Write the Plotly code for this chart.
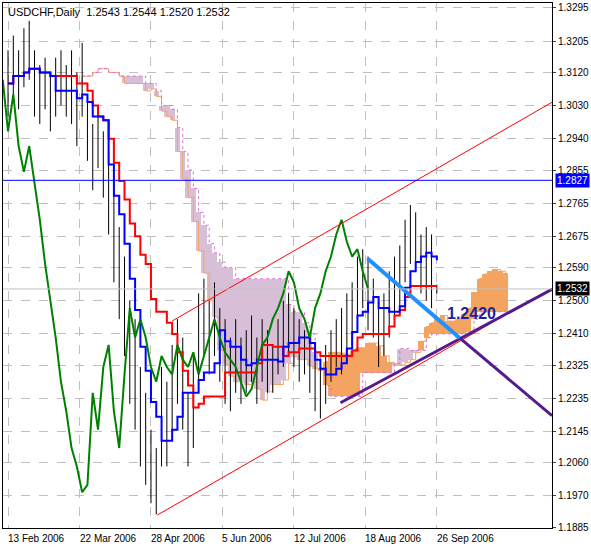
import numpy as np
import plotly.graph_objects as go

# two-day bars (USDCHF daily, Feb - Oct 2006)
highs = [1.318, 1.322, 1.318, 1.324, 1.326, 1.318, 1.314, 1.316, 1.312, 1.316,
         1.318, 1.314, 1.318, 1.312, 1.320, 1.306, 1.298, 1.302, 1.296, 1.290,
         1.280, 1.270, 1.262, 1.250, 1.245, 1.232, 1.225, 1.215, 1.210, 1.232,
         1.228, 1.238, 1.245, 1.240, 1.225, 1.235, 1.252, 1.256, 1.250, 1.255,
         1.248, 1.245, 1.240, 1.245, 1.240, 1.242, 1.246, 1.240, 1.245, 1.242,
         1.238, 1.245, 1.250, 1.252, 1.248, 1.245, 1.242, 1.240, 1.235, 1.232,
         1.238, 1.242, 1.245, 1.248, 1.252, 1.255, 1.262, 1.264, 1.262, 1.256,
         1.250, 1.252, 1.258, 1.262, 1.265, 1.272, 1.276, 1.274, 1.268, 1.270,
         1.268, 1.2544]
lows = [1.300, 1.305, 1.302, 1.308, 1.310, 1.300, 1.298, 1.302, 1.296, 1.300,
        1.303, 1.300, 1.298, 1.292, 1.300, 1.288, 1.280, 1.286, 1.278, 1.268,
        1.255, 1.245, 1.235, 1.222, 1.215, 1.205, 1.200, 1.195, 1.192, 1.205,
        1.205, 1.215, 1.222, 1.215, 1.205, 1.210, 1.228, 1.235, 1.230, 1.235,
        1.228, 1.222, 1.220, 1.225, 1.222, 1.225, 1.228, 1.222, 1.228, 1.225,
        1.225, 1.230, 1.232, 1.235, 1.232, 1.228, 1.230, 1.225, 1.220, 1.218,
        1.222, 1.228, 1.232, 1.230, 1.235, 1.238, 1.245, 1.248, 1.242, 1.240,
        1.232, 1.235, 1.240, 1.245, 1.248, 1.255, 1.260, 1.258, 1.252, 1.250,
        1.248, 1.2520]
closes = [1.310, 1.315, 1.308, 1.318, 1.315, 1.305, 1.306, 1.309, 1.302, 1.310,
          1.308, 1.305, 1.310, 1.296, 1.306, 1.292, 1.285, 1.292, 1.282, 1.272,
          1.260, 1.250, 1.240, 1.228, 1.220, 1.210, 1.205, 1.198, 1.200, 1.225,
          1.215, 1.232, 1.238, 1.220, 1.210, 1.230, 1.248, 1.240, 1.245, 1.240,
          1.232, 1.228, 1.235, 1.232, 1.230, 1.238, 1.234, 1.232, 1.236, 1.230,
          1.235, 1.240, 1.245, 1.240, 1.236, 1.234, 1.232, 1.228, 1.224, 1.226,
          1.232, 1.238, 1.240, 1.245, 1.248, 1.252, 1.258, 1.255, 1.248, 1.245,
          1.240, 1.248, 1.252, 1.258, 1.262, 1.268, 1.272, 1.266, 1.262, 1.264,
          1.258, 1.2532]

tick_days = [0, 27, 54, 81, 108, 135, 162]
tick_text = ["13 Feb 2006", "22 Mar 2006", "28 Apr 2006", "5 Jun 2006",
             "12 Jul 2006", "18 Aug 2006", "26 Sep 2006"]
price_ticks = [1.3295, 1.3205, 1.3120, 1.3030, 1.2940, 1.2855, 1.2765, 1.2675,
               1.2590, 1.2500, 1.2410, 1.2325, 1.2235, 1.2145, 1.2060, 1.1970, 1.1885]

# hand-drawn objects: (day, price) end points
channel_low = [(56.4, 1.1918), (205.5, 1.2534)]
channel_high = [(62.0, 1.2445), (205.5, 1.3039)]
support = [(125.6, 1.2223), (205.5, 1.2531)]
support_down = [(170.6, 1.2399), (205.5, 1.2188)]
blue_line = [(135.8, 1.2615), (170.6, 1.2399)]
hline_blue = 1.2827
last_price = 1.2532

H = np.array(highs); L = np.array(lows); C = np.array(closes)
n = len(H)
step = 2
days = np.arange(n) * step

def mid(p):
    return np.array([(H[max(0, i - p + 1):i + 1].max() + L[max(0, i - p + 1):i + 1].min()) / 2
                     for i in range(n)])

tenkan = mid(5)
kijun = mid(13)
shift = 13
span_a = (tenkan + kijun) / 2
span_b = mid(26)
cloud_x = days + shift * step

fig = go.Figure()

# cloud as histogram
lo = np.minimum(span_a, span_b)
hi = np.maximum(span_a, span_b)
cols = ["#F4A460" if a >= b else "#D8BFD8" for a, b in zip(span_a, span_b)]
fig.add_trace(go.Bar(x=cloud_x, y=hi - lo, base=lo, width=step,
                     marker=dict(color=cols, line_width=0), hoverinfo="skip"))
fig.add_trace(go.Scatter(x=cloud_x, y=span_a, mode="lines",
                         line=dict(color="#F4A460", width=1, shape="hv")))
fig.add_trace(go.Scatter(x=cloud_x, y=span_b, mode="lines",
                         line=dict(color="#DA70D6", width=1, dash="dot", shape="hv")))

# price bars
bx, by = [], []
for d, h, l in zip(days, H, L):
    bx += [d, d, None]
    by += [l, h, None]
fig.add_trace(go.Scatter(x=bx, y=by, mode="lines", line=dict(color="black", width=1)))

fig.add_hline(y=hline_blue, line=dict(color="#0000FF", width=1))
fig.add_hline(y=last_price, line=dict(color="#C0C0C0", width=1))

fig.add_trace(go.Scatter(x=days, y=kijun, mode="lines",
                         line=dict(color="#FF0000", width=2, shape="hv")))
fig.add_trace(go.Scatter(x=days, y=tenkan, mode="lines",
                         line=dict(color="#0000FF", width=2, shape="hv")))
fig.add_trace(go.Scatter(x=days - shift * step, y=C, mode="lines",
                         line=dict(color="#008000", width=2)))

for pts, col, w in [(channel_low, "#FF0000", 1), (channel_high, "#FF0000", 1),
                    (support, "#551A8B", 3), (support_down, "#551A8B", 3),
                    (blue_line, "#1E90FF", 4)]:
    fig.add_trace(go.Scatter(x=[p[0] for p in pts], y=[p[1] for p in pts], mode="lines",
                             line=dict(color=col, width=w)))

fig.add_annotation(x=175, y=1.2465, text="<b>1.2420</b>", showarrow=False,
                   font=dict(size=16, color="#1F1F9F", family="Liberation Sans"))
fig.add_annotation(x=0.005, y=0.998, xref="paper", yref="paper", xanchor="left", yanchor="top",
                   text="USDCHF,Daily  1.2543 1.2544 1.2520 1.2532", showarrow=False,
                   font=dict(size=11, color="black"))
fig.add_annotation(x=1, y=hline_blue, xref="paper", xanchor="left", text="1.2827",
                   showarrow=False, bgcolor="#0000FF", borderpad=1, xshift=3,
                   font=dict(size=10, color="white"))
fig.add_annotation(x=1, y=last_price, xref="paper", xanchor="left", text="1.2532",
                   showarrow=False, bgcolor="black", borderpad=1, xshift=3,
                   font=dict(size=10, color="white"))

# date labels start at their grid line
for d, t in zip(tick_days, tick_text):
    fig.add_annotation(x=d, y=0, yref="paper", yanchor="top", xanchor="left", text=t,
                       showarrow=False, xshift=-2, yshift=-3, font=dict(size=10, color="black"))

fig.update_layout(
    width=591, height=550, showlegend=False, bargap=0,
    plot_bgcolor="white", paper_bgcolor="white",
    margin=dict(l=2, r=38, t=2, b=22),
    font=dict(family="Liberation Sans", size=10, color="black"),
    xaxis=dict(range=[-1.9, 205.5], tickvals=tick_days, showticklabels=False,
               showgrid=True, gridcolor="#C0C0C0", griddash="dash", zeroline=False,
               showline=True, linecolor="black", mirror=True, ticks=""),
    yaxis=dict(range=[1.18829, 1.33085], side="right", tickvals=price_ticks,
               tickformat=".4f", showgrid=True, gridcolor="#C0C0C0", griddash="dash",
               zeroline=False, showline=True, linecolor="black", mirror=True,
               ticks="outside", ticklen=3, tickfont=dict(size=10)),
)

fig.write_html("out.html", config={"displayModeBar": False},
               post_script="document.body.style.margin='0';")
